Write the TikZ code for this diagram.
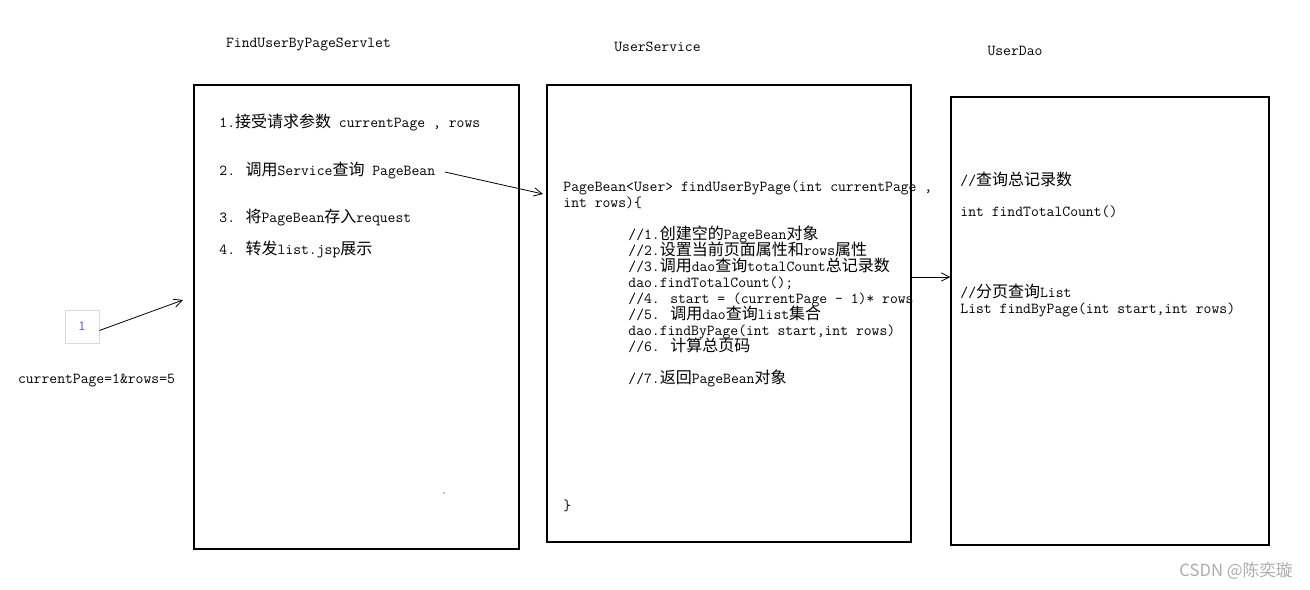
\documentclass[tikz,border=0pt]{standalone}
\usepackage{fontspec}
\usepackage{tikz}
\usetikzlibrary{arrows.meta}
\newfontfamily\cjkfont{Noto Sans CJK SC}
\newfontfamily\markfont{Noto Sans CJK SC}
\newcommand{\cn}[1]{{\cjkfont\fontsize{12pt}{12pt}\selectfont #1}}
\definecolor{pagegray}{HTML}{D9D9D9}
\definecolor{pageblue}{HTML}{5A6BC0}
\tikzset{
  code/.style={anchor=west, inner sep=0pt, font=\ttfamily\fontsize{11.43pt}{12pt}\selectfont, text height=8pt, text depth=2.2pt},
  panel/.style 2 args={draw, line width=0.8pt, inner sep=0pt, minimum width=#1*0.75pt, minimum height=#2*0.75pt},
}

\begin{document}
\begin{tikzpicture}[x=0.75pt, y=-0.75pt, >={Straight Barb[length=2.2mm, width=2.2mm]}, line width=0.6pt]
	\useasboundingbox (0,0) rectangle (1310,589);
	% titles
	\node[code, anchor=center] (servlet-t) at (308.5,44) {FindUserByPageServlet};
	\node[code, anchor=center] (service-t) at (657.5,48) {UserService};
	\node[code, anchor=center] (dao-t) at (1015,52) {UserDao};
	% panels
	\node[panel={325}{464}] (servlet) at (356.5,317) {};
	\node[panel={364}{457}] (service) at (729,313.5) {};
	\node[panel={318}{448}] (dao) at (1110,321) {};
	% servlet steps
	\node[code] (s1) at (219,124) {1.\cn{接受请求参数} currentPage , rows};
	\node[code] (s2) at (219,172) {2. \cn{调用}Service\cn{查询} PageBean};
	\node[code] (s3) at (219,219) {3. \cn{将}PageBean\cn{存入}request};
	\node[code] (s4) at (219,251) {4. \cn{转发}list.jsp\cn{展示}};
	\fill (444,493) circle (0.5pt);
	% service method
	\node[code] (sig1) at (563,188) {PageBean<User> findUserByPage(int currentPage ,};
	\node[code] (sig2) at (563,204) {int rows)\{};
	\foreach \txt [count=\i] in {{//1.\cn{创建空的}PageBean\cn{对象}},
		{//2.\cn{设置当前页面属性和}rows\cn{属性}},
		{//3.\cn{调用}dao\cn{查询}totalCount\cn{总记录数}},
		{dao.findTotalCount();},
		{//4. start = (currentPage - 1)* rows},
		{//5. \cn{调用}dao\cn{查询}list\cn{集合}},
		{dao.findByPage(int start,int rows)},
		{//6. \cn{计算总页码}},
		{},
		{//7.\cn{返回}PageBean\cn{对象}}}
		\node[code] (step-\i) at (628,220+16*\i) {\txt};
	\node[code] (close) at (563,507) {\}};
	% dao methods
	\node[code] (d1) at (960,182) {//\cn{查询总记录数}};
	\node[code] (d2) at (960,213) {int findTotalCount()};
	\node[code] (d3) at (960,294) {//\cn{分页查询}List};
	\node[code] (d4) at (960,310) {List findByPage(int start,int rows)};
	% request
	\node[draw=pagegray, minimum width=25.5pt, minimum height=24.75pt, text=pageblue, font=\markfont\fontsize{9}{10}\selectfont] (one) at (82,326.5) {1};
	\node[code, anchor=center] (query) at (96.5,380) {currentPage=1\&rows=5};
	\coordinate (req) at (183,300);
	\coordinate (callin) at (543,194);
	\coordinate (daocall) at (931,277);
	\draw[->] ([yshift=-3pt]one.east) -- (req);
	\draw[->] ([xshift=7pt]s2.east) -- (callin);
	\draw[->] (daocall -| service.east) -- (daocall -| dao.west);
	\node[anchor=east, inner sep=0pt, text=gray!65, font=\markfont\fontsize{12.5}{14}\selectfont] (mark) at (1293,571) {CSDN @陈奕璇};
\end{tikzpicture}
\end{document}
